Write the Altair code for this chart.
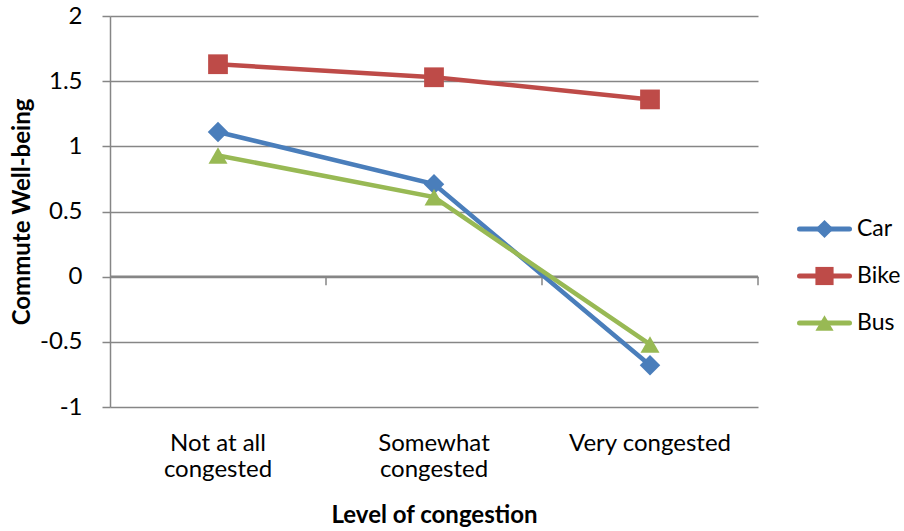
import altair as alt
import pandas as pd

# Commute well-being by level of congestion, per transport mode
categories = ["Not at all congested", "Somewhat congested", "Very congested"]
series = ["Car", "Bike", "Bus"]
car = [1.11, 0.71, -0.68]
bike = [1.63, 1.53, 1.36]
bus = [0.93, 0.61, -0.52]

colors = ["#4A7EBB", "#BE4B48", "#98B954"]
shapes = ["diamond", "square", "triangle-up"]
sizes = [420, 360, 380]

rows = []
for name, values in zip(series, [car, bike, bus]):
    for cat, v in zip(categories, values):
        rows.append({"level": cat, "mode": name, "wellbeing": v})
df = pd.DataFrame(rows)
legend_df = pd.DataFrame({"mode": series})

FONT = "Lato"
GRID = "#868686"
FS = 24

label_expr = (
    "datum.label == 'Not at all congested' ? ['Not at all', 'congested'] : "
    "datum.label == 'Somewhat congested' ? ['Somewhat', 'congested'] : datum.label"
)

x_enc = alt.X(
    "level:N",
    sort=categories,
    scale=alt.Scale(type="band", paddingInner=0, paddingOuter=0),
    axis=alt.Axis(
        title="Level of congestion",
        titleFontSize=FS,
        titleFontWeight="bold",
        titleColor="black",
        titlePadding=22,
        labelAngle=0,
        labelAlign="center",
        labelFontSize=FS,
        labelColor="black",
        labelPadding=36,
        labelLineHeight=26,
        labelExpr=label_expr,
        domain=False,
        ticks=False,
        tickSize=0,
        grid=False,
    ),
)
y_enc = alt.Y(
    "wellbeing:Q",
    scale=alt.Scale(domain=[-1, 2], nice=False, zero=False),
    axis=alt.Axis(
        title="Commute Well-being",
        titleFontSize=FS,
        titleFontWeight="bold",
        titleColor="black",
        titleX=-88,
        titleBaseline="middle",
        values=[-1, -0.5, 0, 0.5, 1, 1.5, 2],
        labelExpr="datum.value",
        labelFontSize=FS,
        labelColor="black",
        labelPadding=20,
        tickSize=8,
        tickColor=GRID,
        tickWidth=1.5,
        domainColor=GRID,
        domainWidth=1.5,
        grid=True,
        gridColor=GRID,
        gridWidth=1.5,
    ),
)

color_scale = alt.Scale(domain=series, range=colors)
shape_scale = alt.Scale(domain=series, range=shapes)

lines = alt.Chart(df).mark_line(strokeWidth=4.5).encode(
    x=x_enc,
    y=y_enc,
    color=alt.Color("mode:N", sort=series, scale=color_scale, legend=None),
    detail="mode:N",
)

points = alt.Chart(df).mark_point(filled=True, opacity=1).encode(
    x=alt.X("level:N", sort=categories),
    y="wellbeing:Q",
    color=alt.Color("mode:N", sort=series, scale=color_scale, legend=None),
    shape=alt.Shape("mode:N", sort=series, scale=shape_scale, legend=None),
    size=alt.Size("mode:N", sort=series, scale=alt.Scale(domain=series, range=sizes), legend=None),
)

# axis line through zero with category-boundary ticks
zero_line = alt.Chart(pd.DataFrame({"z": [0]})).mark_rule(color=GRID, strokeWidth=2.5).encode(
    y=alt.Y("z:Q")
)
ticks = alt.Chart(pd.DataFrame({"level": categories})).mark_rule(color=GRID, strokeWidth=1.5).encode(
    x=alt.X("level:N", sort=categories, bandPosition=1),
    y=alt.datum(0),
    y2=alt.datum(-0.065),
)

data_layers = alt.layer(zero_line, ticks, lines, points)

# legend: line sample with marker, then series name
leg_y = alt.Y("mode:N", sort=series, scale=alt.Scale(type="point", range=[213, 307], padding=0), axis=None)
leg_color = alt.Color("mode:N", sort=series, scale=color_scale, legend=None)

leg_line = alt.Chart(legend_df).mark_rule(strokeWidth=5, strokeCap="round").encode(
    x=alt.value(689.5), x2=alt.value(739.5), y=leg_y, color=leg_color
)
leg_mark = alt.Chart(legend_df).mark_point(filled=True, opacity=1, size=330).encode(
    x=alt.value(714.5),
    y=leg_y,
    color=leg_color,
    shape=alt.Shape("mode:N", sort=series, scale=shape_scale, legend=None),
)
leg_text = alt.Chart(legend_df).mark_text(
    align="left", baseline="middle", fontSize=23, color="black"
).encode(x=alt.value(747), y=leg_y, text="mode:N")

legend_layers = alt.layer(leg_line, leg_mark, leg_text)

chart = (
    alt.layer(data_layers, legend_layers)
    .resolve_scale(y="independent")
    .properties(
        width=648,
        height=391,
        autosize=alt.AutoSizeParams(type="none"),
        padding={"left": 110, "top": 16, "right": 146, "bottom": 124},
    )
    .configure(font=FONT)
    .configure_view(stroke=None)
)

chart.save("out.html", embed_options={"renderer": "svg", "actions": False})
